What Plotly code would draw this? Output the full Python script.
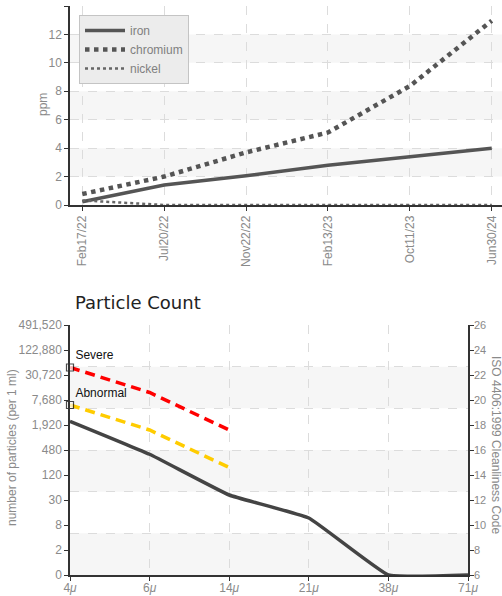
import plotly.graph_objects as go

# ---------------- data ----------------
dates = ["Feb17/22", "Jul20/22", "Nov22/22", "Feb13/23", "Oct11/23", "Jun30/24"]
iron = [0.23, 1.4, 2.06, 2.8, 3.4, 4.0]
chromium = [0.77, 2.0, 3.7, 5.1, 8.37, 12.97]
nickel = [0.32, 0.0, 0.0, 0.0, 0.0, 0.0]

sizes = ["4<i>μ</i>", "6<i>μ</i>", "14<i>μ</i>", "21<i>μ</i>", "38<i>μ</i>", "71<i>μ</i>"]
particle_code = [18.3, 15.66, 12.4, 10.56, 6.0, 6.0]
severe_sizes = ["4<i>μ</i>", "6<i>μ</i>", "14<i>μ</i>"]
severe_code = [22.6, 20.6, 17.6]
abnormal_code = [19.6, 17.6, 14.6]
severe_labels = ["Severe", "", ""]
abnormal_labels = ["Abnormal", "", ""]

iso_codes = [6, 8, 10, 12, 14, 16, 18, 20, 22, 24, 26]
count_labels = ["0", "2", "8", "30", "120", "480", "1,920", "7,680", "30,720", "122,880", "491,520"]
ppm_ticks = [0, 2, 4, 6, 8, 10, 12, 14]

# ---------------- styles ----------------
W, H = 502, 596
FAM = "Liberation Sans, Arial, sans-serif"
TICKFONT = dict(family=FAM, size=12, color="#8a8a8a")
AXCOL = "#333333"
GRIDCOL = "#dcdcdc"
BAND = "#f6f6f6"

def px_x(p):
    return p / W

def px_y(p):
    return 1 - p / H

fig = go.Figure()

# top chart traces
fig.add_trace(go.Scatter(x=dates, y=iron, name="iron", mode="lines",
                         line=dict(color="#555555", width=3.5), xaxis="x", yaxis="y"))
fig.add_trace(go.Scatter(x=dates, y=chromium, name="chromium", mode="lines",
                         line=dict(color="#555555", width=4.5, dash="dot"), xaxis="x", yaxis="y"))
fig.add_trace(go.Scatter(x=dates, y=nickel, name="nickel", mode="lines",
                         line=dict(color="#666666", width=2.5, dash="dot"), xaxis="x", yaxis="y"))

# bottom chart traces (y2 = counts on the left, y3 = ISO code on the right, same scale)
fig.add_trace(go.Scatter(x=sizes, y=particle_code, mode="lines", showlegend=False,
                         line=dict(color="#444444", width=3.5, shape="spline", smoothing=0.3),
                         xaxis="x2", yaxis="y3"))
for vals, labels, col in [(severe_code, severe_labels, "#ff0000"), (abnormal_code, abnormal_labels, "#ffcc00")]:
    fig.add_trace(go.Scatter(x=severe_sizes, y=vals, mode="lines+markers+text", showlegend=False,
                             text=labels, textposition="top right",
                             textfont=dict(family=FAM, size=12, color="#111111"),
                             line=dict(color=col, width=3.5, dash="10px,6px"),
                             marker=dict(symbol="square", size=[7, 0, 0], color="white",
                                         line=dict(color="black", width=1.2)),
                             cliponaxis=False, xaxis="x2", yaxis="y2"))

shapes = []
# top bands
for lo in [2, 6, 10]:
    shapes.append(dict(type="rect", xref="x domain", yref="y", x0=0, x1=1, y0=lo, y1=lo + 2,
                       fillcolor=BAND, line=dict(width=0), layer="below"))
# bottom bands (grid divides the plot into six parts)
for lo in [0, 2, 4]:
    shapes.append(dict(type="rect", xref="x2 domain", yref="y4", x0=0, x1=1, y0=lo, y1=lo + 1,
                       fillcolor=BAND, line=dict(width=0), layer="below"))

common_axis = dict(showline=True, linecolor=AXCOL, linewidth=1.5, ticks="outside",
                   ticklen=4, tickcolor=AXCOL, zeroline=False, automargin=False)

title_font = dict(family=FAM, size=12, color="#8a8a8a")

fig.update_layout(
    width=W, height=H,
    margin=dict(l=0, r=0, t=0, b=0, autoexpand=False),
    paper_bgcolor="white", plot_bgcolor="white",
    shapes=shapes,
    showlegend=True,
    legend=dict(x=px_x(79), y=px_y(15), xanchor="left", yanchor="top",
                bgcolor="#ececec", bordercolor="#c4c4c4", borderwidth=1,
                font=dict(family=FAM, size=12, color="#808080"),
                tracegroupgap=0, itemwidth=40),
    xaxis=dict(domain=[px_x(70), 1.0], type="category", range=[-0.15, 5.125],
               showgrid=True, gridcolor=GRIDCOL, griddash="dash", tickangle=-90,
               tickfont=TICKFONT, anchor="y", **common_axis),
    yaxis=dict(domain=[px_y(205), px_y(6)], range=[0, 14], tickvals=ppm_ticks,
               showgrid=True, gridcolor=GRIDCOL, griddash="dash", tickfont=TICKFONT,
               anchor="x", **common_axis),
    xaxis2=dict(domain=[px_x(70), px_x(468)], type="category", range=[0, 5],
                showgrid=True, gridcolor=GRIDCOL, griddash="dash", ticklabelstandoff=-3,
                tickfont=TICKFONT, anchor="y2", **common_axis),
    yaxis2=dict(domain=[px_y(575), px_y(325)], range=[6, 26], tickvals=iso_codes,
                ticktext=count_labels, showgrid=False, tickfont=TICKFONT, anchor="x2", **common_axis),
    yaxis3=dict(range=[6, 26], tickvals=iso_codes, overlaying="y2", side="right",
                showgrid=False, ticklabelstandoff=-2,
                tickfont=dict(family=FAM, size=11, color="#8a8a8a"), anchor="x2", **common_axis),
    yaxis4=dict(range=[0, 6], dtick=1, overlaying="y2", showgrid=True, gridcolor=GRIDCOL,
                griddash="dash", showticklabels=False, showline=False, zeroline=False,
                anchor="x2", automargin=False),
    title=dict(text="Particle Count", x=px_x(75), xanchor="left", y=px_y(303), yanchor="middle",
               automargin=False,
               font=dict(family="DejaVu Sans, sans-serif", size=18, color="#222222")),
    annotations=[
        dict(text="ppm", xref="paper", yref="paper", x=px_x(43), y=px_y(105), showarrow=False,
             xanchor="center", yanchor="middle", textangle=-90, font=title_font),
        dict(text="number of particles (per 1 ml)", xref="paper", yref="paper", x=px_x(12), y=px_y(448),
             xanchor="center", yanchor="middle", showarrow=False, textangle=-90, font=title_font),
        dict(text="ISO 4406:1999 Cleanliness Code", xref="paper", yref="paper", x=px_x(496), y=px_y(445),
             xanchor="center", yanchor="middle", showarrow=False, textangle=90, font=title_font),
    ],
)

fig.write_html("out.html", config={"displayModeBar": False},
               post_script="document.body.style.margin='0';document.body.style.overflow='hidden';")
